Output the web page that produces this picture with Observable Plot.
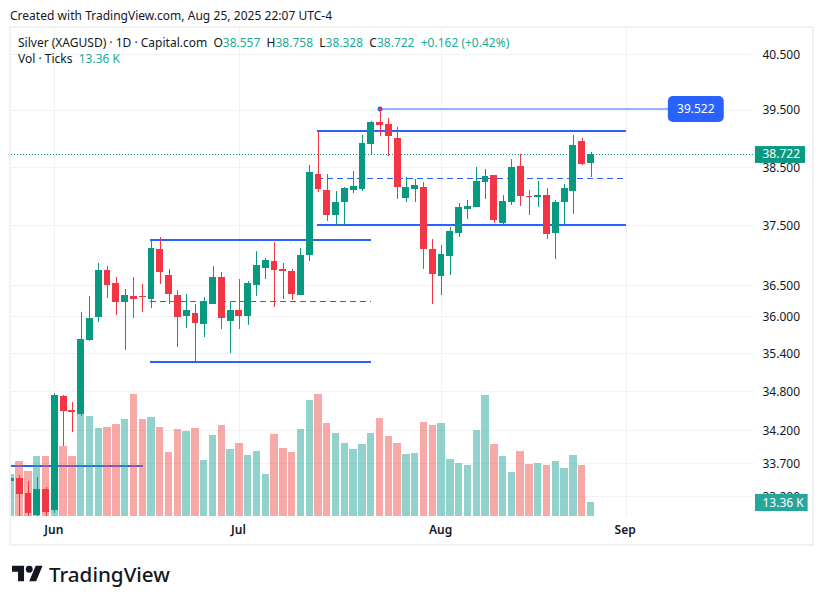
<!DOCTYPE html>
<html>
<head>
<meta charset="utf-8">
<script src="https://cdn.jsdelivr.net/npm/d3@7"></script>
<script src="https://cdn.jsdelivr.net/npm/@observablehq/plot@0.6"></script>
<style>
html,body{margin:0;padding:0;background:#fff;}
#stage{position:relative;width:822px;height:604px;overflow:hidden;font-family:"Noto Sans",sans-serif;color:#131722;}
.abs{position:absolute;white-space:pre;font-size:12px;line-height:16px;}
#frame{position:absolute;left:9px;top:26px;width:801px;height:516px;border:2px solid #f2f2f3;}
#chart{position:absolute;left:0;top:0;}
.g{color:#22ab94;}
</style>
</head>
<body>
<div id="stage">
<div id="frame"></div>
<div id="chart"></div>
<div class="abs" style="left:10px;top:8px;word-spacing:.2px;">Created with TradingView.com, Aug 25, 2025 22:07 UTC-4</div>
<div class="abs" style="left:18px;top:35px;">Silver (XAGUSD) · 1D · Capital.com  O<span class="g">38.557</span>  H<span class="g">38.758</span>  L<span class="g">38.328</span>  C<span class="g">38.722</span>  <span class="g">+0.162 (+0.42%)</span></div>
<div class="abs" style="left:18px;top:51px;">Vol · Ticks  <span class="g">13.36 K</span></div>
<svg style="position:absolute;left:12px;top:564px" width="31" height="20" viewBox="0 0 36 23"><path fill="#131722" d="M14 20H7V9H0V2h14v18zM28 20h-8l7.5-18h8L28 20z"/><circle fill="#131722" cx="20" cy="6" r="4"/></svg>
<div class="abs" style="left:49px;top:560px;font-size:20.6px;line-height:28px;font-weight:500;">TradingView</div>
</div>
<script>
// Bar number: 0 is the first bar of June
const barIndex = d3.range(-5, 62);
const openP  = [33.430,33.475,33.249,32.919,33.310,32.994,34.731,34.513,34.451,35.616,35.986,36.755,36.541,36.228,36.327,36.327,36.277,37.100,36.672,36.343,36.002,36.050,35.873,36.195,36.639,35.922,36.098,36.002,36.508,36.788,36.903,36.771,36.738,36.343,37.002,38.376,38.100,37.674,37.893,38.100,38.117,38.896,39.283,39.248,39.002,37.962,38.117,38.152,37.100,36.656,36.985,37.371,37.775,37.809,38.238,38.358,37.539,37.893,38.513,37.997,37.979,38.014,37.371,37.893,38.083,38.949,38.557];
const highP  = [33.475,33.520,33.430,33.490,33.340,34.778,34.747,34.636,36.066,36.327,36.870,36.820,36.639,36.442,36.639,36.524,37.270,37.304,36.771,36.425,36.360,36.195,36.310,36.820,36.722,36.244,36.606,36.574,37.068,36.952,37.219,36.870,36.771,37.117,38.531,39.125,38.376,38.083,38.152,38.427,39.054,39.301,39.522,39.354,39.195,38.324,38.290,38.238,37.270,37.168,37.472,37.876,37.928,38.496,38.462,38.358,38.014,38.634,38.720,38.100,38.255,38.135,37.928,38.203,39.054,39.002,38.758];
const lowP   = [33.430,32.850,32.850,32.880,32.870,32.949,33.959,34.174,34.420,35.600,35.906,36.294,36.018,35.455,35.970,36.066,36.131,36.524,36.195,35.503,35.809,35.265,35.664,36.195,35.793,35.407,35.793,35.857,36.327,36.606,36.147,36.277,36.261,36.343,36.903,38.066,37.573,37.489,37.506,38.048,38.083,38.703,39.037,38.686,37.945,37.893,37.893,36.771,36.195,36.343,36.672,37.304,37.607,37.809,37.945,37.539,37.489,37.842,37.825,37.674,37.809,37.270,36.936,37.523,37.691,38.531,38.328];
const closeP = [33.475,33.234,32.949,33.310,32.964,34.747,34.497,34.482,35.627,35.970,36.755,36.508,36.228,36.343,36.277,36.310,37.117,36.722,36.360,35.986,36.098,35.889,36.244,36.639,35.970,36.098,36.002,36.541,36.837,36.919,36.755,36.738,36.360,37.002,38.410,38.117,37.674,37.893,38.135,38.169,38.914,39.283,39.230,39.037,38.152,38.152,38.186,37.100,36.689,37.018,37.405,37.809,37.825,38.255,38.341,37.589,37.911,38.496,37.997,37.979,38.014,37.354,37.893,38.135,38.875,38.548,38.722];
const volumeK = [40.1,52.5,42.9,57.2,57.2,74.4,66.8,57.2,112.6,95.4,84.0,84.9,87.8,92.5,116.4,92.5,94.4,84.9,61.1,83.0,81.1,84.0,53.4,77.3,86.8,63.9,69.6,58.2,62.0,40.1,78.2,64.9,61.1,83.0,110.7,116.4,88.7,79.2,69.6,63.9,68.7,79.2,93.5,76.3,69.6,59.1,60.1,89.7,86.8,88.7,54.4,50.6,48.7,82.0,115.4,68.7,57.2,42.0,62.0,49.6,50.6,48.7,52.5,45.8,58.2,48.7,13.36];
const priceTicks = [40.5,39.5,38.5,37.5,36.5,36,35.4,34.8,34.2,33.7,33.2];
const monthLabels = ["Jun","Jul","Aug","Sep"];
const monthBars = [0,21,44,65];
// Drawn levels
const levelPrice = [37.253,35.265,39.125,37.506,33.667];
const levelStart = [10.89,10.89,29.88,29.88,-4.93];
const levelEnd   = [36.03,36.03,65,65,10.09];
const midPrice = [36.24,38.30];
const midStart = [10.89,29.88];
const midEnd   = [36.03,65];
const lastPrice = 38.722;
const swingBar = 37, swingPrice = 39.522;
const lastVolume = 13.36;

const W = 822, H = 604, L = 11, R = 754, T = 28, B = 516;
const xDomain = [-4.926, 79.6];
const GREEN = "#089981", RED = "#f23645", BLUE = "#2962ff", GRID = "#f2f2f3", INK = "#131722", VOLTEAL = "#26a69a";

const bars = barIndex.map((i, k) => ({i, o: openP[k], h: highP[k], l: lowP[k], c: closeP[k], v: volumeK[k], up: closeP[k] >= openP[k]}));
const levels = levelPrice.map((p, k) => ({p, a: levelStart[k], b: levelEnd[k]}));
const mids = midPrice.map((p, k) => ({p, a: midStart[k], b: midEnd[k]}));

const volumeLayer = Plot.plot({
  width: W, height: H, marginLeft: L, marginRight: W - R, marginTop: T, marginBottom: H - B,
  style: {background: "transparent"},
  x: {domain: xDomain, range: [L, R], axis: null},
  y: {domain: [0, 465.6], range: [B, T], axis: null},
  color: {type: "identity"},
  marks: [
    Plot.rect(bars, {x1: d => d.i - 0.42, x2: d => d.i + 0.42, y1: () => 0, y2: "v",
      fill: d => d.up ? VOLTEAL : "#ef5350", fillOpacity: 0.5, clip: true, shapeRendering: "crispEdges"})
  ]
});

const chart = Plot.plot({
  width: W, height: H, marginLeft: L, marginRight: W - R, marginTop: T, marginBottom: H - B,
  style: {background: "transparent", fontFamily: "'Noto Sans',sans-serif", fontSize: "12px"},
  x: {domain: xDomain, range: [L, R]},
  y: {type: "log", domain: [32.906, 40.976], range: [B, T]},
  color: {type: "identity"},
  marks: [
    Plot.ruleY(priceTicks, {stroke: GRID, strokeWidth: 1, shapeRendering: "crispEdges"}),
    Plot.ruleX(monthBars, {stroke: GRID, strokeWidth: 1, shapeRendering: "crispEdges"}),
    Plot.ruleY([lastPrice], {stroke: GREEN, strokeWidth: 1, strokeDasharray: "1,2", shapeRendering: "crispEdges"}),
    Plot.ruleY(levels, {y: "p", x1: "a", x2: "b", stroke: BLUE, strokeWidth: 2, clip: true, shapeRendering: "crispEdges"}),
    Plot.ruleY(mids, {y: "p", x1: "a", x2: "b", stroke: BLUE, strokeWidth: 1, strokeDasharray: "6,4", shapeRendering: "crispEdges"}),
    Plot.ruleY([swingPrice], {x1: swingBar, x2: 69.8, stroke: BLUE, strokeOpacity: 0.5, strokeWidth: 2, shapeRendering: "crispEdges"}),
    Plot.dot([swingPrice], {x: swingBar, y: d => d, r: 2.5, fill: BLUE}),
    () => volumeLayer,
    Plot.ruleX(bars, {x: "i", y1: "l", y2: "h", stroke: d => d.up ? GREEN : RED, strokeWidth: 1, clip: true, shapeRendering: "crispEdges"}),
    Plot.rect(bars, {x1: d => d.i - 0.39, x2: d => d.i + 0.39, y1: "o", y2: "c",
      fill: d => d.up ? GREEN : RED, clip: true, shapeRendering: "crispEdges"}),
    Plot.axisY(priceTicks, {anchor: "right", label: null, tickSize: 0, tickPadding: 8,
      tickFormat: d3.format(".3f"), fill: INK, fontSize: 12, dy: 0.5}),
    Plot.axisX(monthBars, {anchor: "bottom", label: null, tickSize: 0, tickPadding: 9, dx: -1,
      tickFormat: d => monthLabels[monthBars.indexOf(d)], fill: INK, fontSize: 12, fontWeight: 600}),
    // 39.522 tag
    Plot.rect([swingPrice], {x1: 69.8, x2: 76.16, y1: 39.283, y2: 39.741, fill: BLUE, r: 5}),
    Plot.text([swingPrice], {x: 72.98, y: d => d, text: d => d3.format(".3f")(d), fill: "#fff", fontSize: 12, dx: -0.5}),
    // last price tag
    Plot.rect([lastPrice], {x1: 79.71, x2: 85.4, y1: 38.565, y2: 38.858, fill: GREEN}),
    Plot.text([lastPrice], {x: 80.51, y: d => d, text: d => d3.format(".3f")(d), fill: "#fff", fontSize: 12, textAnchor: "start"}),
    // last volume tag
    Plot.rect([lastVolume], {x1: 79.71, x2: 85.7, y1: 32.979, y2: 33.234, fill: VOLTEAL}),
    Plot.text([lastVolume], {x: 80.51, y: () => 33.106, text: d => d3.format(".2f")(d) + " K", fill: "#fff", fontSize: 12, textAnchor: "start"})
  ]
});
document.getElementById("chart").appendChild(chart);
</script>
</body>
</html>
